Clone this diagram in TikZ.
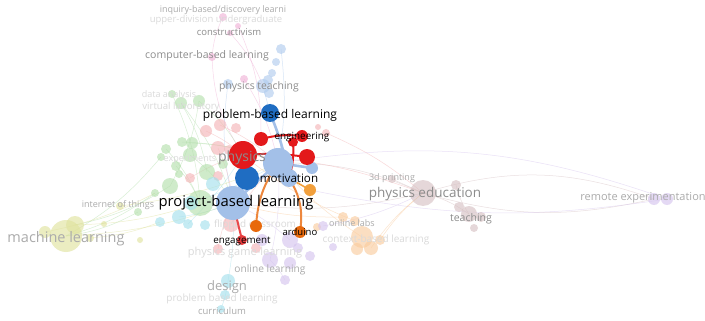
\documentclass[tikz,border=0pt]{standalone}
\usepackage{fontspec}
\setmainfont{Open Sans}
\usetikzlibrary{positioning,backgrounds}
\pgfdeclarelayer{paper}
\pgfdeclarelayer{links}
\pgfdeclarelayer{faded}
\pgfdeclarelayer{strong}
\pgfsetlayers{paper,links,faded,strong,main}
% cluster colours, full and dimmed
\definecolor{vbred}{HTML}{E3191B}
\definecolor{vbblue}{HTML}{1F6DC2}
\definecolor{vblight}{HTML}{A3C0E8}
\definecolor{vborange}{HTML}{E8690C}
\definecolor{vbamber}{HTML}{F2A03C}
\definecolor{fgreen}{HTML}{B3DFAB}
\definecolor{fred}{HTML}{F4B3B5}
\definecolor{fpink}{HTML}{F0B0D6}
\definecolor{fblue}{HTML}{AFCBEE}
\definecolor{fcyan}{HTML}{A3E0EC}
\definecolor{folive}{HTML}{DFE29C}
\definecolor{forange}{HTML}{FACB9C}
\definecolor{fpurple}{HTML}{D4C3EE}
\definecolor{fbrown}{HTML}{D6C0C2}
\definecolor{txtmid}{HTML}{8C8C8C}
\definecolor{txtlight}{HTML}{ABABAB}
\definecolor{txtfaint}{HTML}{DADADA}
\tikzset{
  bub/.style={circle, inner sep=0pt, minimum size=2*#1pt},
  dim/.style={fill=#1, fill opacity=0.62},
  lbl/.style={inner sep=0pt, font=\fontsize{#1}{#1}\selectfont},
  thin link/.style={line width=0.5pt, draw=#1, draw opacity=0.5},
  thick link/.style={line width=2.6pt, draw=#1, line cap=round},
}

\begin{document}
\begin{tikzpicture}[x=1pt, y=-1pt]
  \begin{pgfonlayer}{paper}
    \fill[white] (0,0) rectangle (705,321);
  \end{pgfonlayer}
  \useasboundingbox (0,0) rectangle (705,321);

  % highlighted neighbourhood
  \node[bub=17, fill=vblight] (proj) at (233,203) {};
  \node[bub=15, fill=vblight] (mot) at (278,163) {};
  \node[bub=9, fill=vblight] (lb2) at (289,178) {};
  \node[bub=6, fill=vblight] (lb3) at (312,168) {};
  \node[bub=12, fill=vbblue] (blu2) at (247,178) {};
  \node[bub=9, fill=vbblue] (pbl) at (270,113) {};
  \node[bub=14, fill=vbred] (phys) at (243,155) {};
  \node[bub=7, fill=vbred] (red2) at (261,139) {};
  \node[bub=6, fill=vbred] (eng) at (302,136) {};
  \node[bub=5, fill=vbred] (eng2) at (293,142) {};
  \node[bub=8, fill=vbred] (red3) at (307,157) {};
  \node[bub=6, fill=vbamber] (amb) at (310,190) {};
  \node[bub=6, fill=vborange] (ard) at (300,232) {};
  \node[bub=6, fill=vborange] (engor) at (256,226) {};
  \node[bub=5, fill=vbred!85] (engrd) at (242,240) {};

  % dimmed clusters
  \begin{pgfonlayer}{faded}
    \foreach \n/\x/\y/\r in {1/223/17/4, 2/238/26/3, 3/230/33/3, 4/212/57/4, 5/244/79/4}
      \node[bub=\r, dim=fpink] (pk\n) at (\x,\y) {};
    \foreach \n/\x/\y/\r in {1/281/49/5, 2/276/62/4, 3/272/73/4, 4/268/80/5, 5/228/84/5, 6/263/86/7, 7/269/93/5}
      \node[bub=\r, dim=fblue] (bl\n) at (\x,\y) {};
    \foreach \n/\x/\y/\r in {1/172/94/4, 2/181/103/6, 3/199/101/6, 4/166/149/5, 5/182/142/5,
        6/192/143/6, 7/190/155/7, 8/176/166/5, 9/161/157/4, 10/207/172/8, 11/170/186/8,
        12/155/193/4, 13/200/203/13, 14/138/212/4, 15/179/174/4, 16/223/164/5}
      \node[bub=\r, dim=fgreen] (g\n) at (\x,\y) {};
    \foreach \n/\x/\y/\r in {1/206/131/6, 2/220/125/6, 3/218/148/7, 4/229/150/5, 5/236/128/5,
        6/190/178/5, 7/218/176/5, 8/326/133/4, 9/318/127/3, 10/231/224/8, 11/256/248/5, 12/218/249/5}
      \node[bub=\r, dim=fred] (rd\n) at (\x,\y) {};
    \foreach \n/\x/\y/\r in {1/191/203/7, 2/179/217/7, 3/160/222/5, 4/205/225/5, 5/188/224/5,
        6/213/184/7, 7/228/281/7, 8/225/295/5, 9/221/309/4}
      \node[bub=\r, dim=fcyan] (cy\n) at (\x,\y) {};
    \foreach \n/\x/\y/\r in {1/66/236/16, 2/45/232/6, 3/75/225/9, 4/90/238/4, 5/120/206/4, 6/104/224/3, 7/140/240/3}
      \node[bub=\r, dim=folive] (ol\n) at (\x,\y) {};
    \foreach \n/\x/\y/\r in {1/343/217/5, 2/355/221/5, 3/362/237/11, 4/371/248/7, 5/357/249/6, 6/380/240/5, 7/317/227/4}
      \node[bub=\r, dim=forange] (or\n) at (\x,\y) {};
    \foreach \n/\x/\y/\r in {1/262/240/6, 2/290/240/8, 3/270/260/8, 4/290/263/6, 5/298/248/5,
        6/323/226/5, 7/333/247/4, 8/310/256/5, 9/285/280/5}
      \node[bub=\r, dim=fpurple] (pu\n) at (\x,\y) {};
    \foreach \n/\x/\y/\r in {1/423/193/13, 2/456/185/5, 3/392/179/4, 4/459/207/5, 5/469/214/8, 6/481/217/5, 7/474/228/4}
      \node[bub=\r, dim=fbrown] (br\n) at (\x,\y) {};
    \node[bub=6, dim=fpurple] (rm1) at (654,199) {};
    \node[bub=6, dim=fpurple] (rm2) at (667,199) {};

    % dimmed labels
    \node[lbl=9, txtlight] (t-inq) at (223,10) {inquiry-based/discovery learni};
    \node[lbl=9.5, txtfaint] (t-upp) at (216,20) {upper-division undergraduate};
    \node[lbl=9.5, txtmid] (t-con) at (229,32) {constructivism};
    \node[lbl=10.5, txtmid] (t-cbl) at (207,56) {computer-based learning};
    \node[lbl=10.4, txtmid] (t-pht) at (259,87) {physics teaching};
    \node[lbl=9, txtfaint] (t-dat) at (169,95) {data analysis};
    \node[lbl=9.6, txtfaint] (t-vir) at (181,107) {virtual laboratory};
    \node[lbl=9, txtfaint] (t-exp) at (190,159) {experiments};
    \node[lbl=9, txtlight] (t-iot) at (118,205) {internet of things};
    \node[lbl=14.5, txtlight] (t-ml) at (66,239) {machine learning};
    \node[lbl=9.9, txtfaint] (t-fli) at (255,225) {flipped classroom};
    \node[lbl=9, txtlight] (t-onl) at (352,223) {online labs};
    \node[lbl=9, txtlight] (t-3d) at (392,178) {3d printing};
    \node[lbl=13.5, txtmid] (t-phe) at (425,194) {physics education};
    \node[lbl=10.5, txtmid] (t-tea) at (471,219) {teaching};
    \node[lbl=11, txtlight] (t-rem) at (643,198) {remote experimentation};
    \node[lbl=10, txtfaint] (t-prb) at (376,240) {context-based learning};
    \node[lbl=11, txtfaint] (t-gam) at (245,253) {physics game-learning};
    \node[lbl=10.2, txtlight] (t-onlr) at (270,270) {online learning};
    \node[lbl=13, txtlight] (t-des) at (227,287) {design};
    \node[lbl=10, txtfaint] (t-prl) at (222,299) {problem based learning};
    \node[lbl=9.5, txtlight] (t-cur) at (222,311) {curriculum};
  \end{pgfonlayer}

  % faint links between the clusters
  \begin{pgfonlayer}{links}
    \draw[thin link=fbrown] (mot.center) to[bend left=12] (br1.center);
    \draw[thin link=fbrown] (proj.center) to[bend right=10] (br1.center);
    \draw[thin link=fred] (phys.center) to[bend left=8] (br1.center);
    \draw[thin link=fbrown] (br1.center) to[bend left=18] (rm1.center);
    \draw[thin link=fbrown] (br1.center) to[bend right=14] (rm1.center);
    \draw[thin link=fpurple] (mot.center) to[bend left=14] (rm2.center);
    \draw[thin link=fpurple] (amb.center) to[bend right=10] (rm2.center);
    \draw[thin link=fbrown] (br1.center) to[bend left=10] (br5.center);
    \draw[thin link=fbrown] (br2.center) to[bend right=10] (br5.center);
    \draw[thin link=fbrown] (br3.center) to (br1.center);
    \draw[thin link=fpink] (pk1.center) to[bend right=10] (pk4.center);
    \draw[thin link=fpink] (pk3.center) to[bend left=10] (bl6.center);
    \draw[thin link=fpink] (pk4.center) to[bend right=15] (phys.center);
    \draw[thin link=fpink] (pk5.center) to[bend left=10] (mot.center);
    \draw[thin link=fpink] (pk2.center) to[bend left=12] (red2.center);
    \draw[thin link=fblue] (bl1.center) to[bend left=8] (mot.center);
    \draw[thin link=fblue] (bl5.center) to[bend right=10] (proj.center);
    \draw[thin link=fblue] (bl6.center) to (pbl.center);
    \foreach \a/\b in {g1/g13, g2/proj, g3/phys, g4/g13, g5/mot, g7/proj, g9/ol1, g11/ol3,
        g12/ol1, g14/ol1, g3/g11, g2/g10, g6/mot, g8/g13}
      \draw[thin link=fgreen] (\a.center) to[bend left=10] (\b.center);
    \foreach \a/\b in {ol1/proj, ol3/g13, ol5/mot, ol2/g12, ol4/cy3}
      \draw[thin link=folive] (\a.center) to[bend right=8] (\b.center);
    \foreach \a/\b in {rd1/phys, rd2/mot, rd3/proj, rd6/phys, rd10/mot, rd12/proj, rd8/br1}
      \draw[thin link=fred] (\a.center) to[bend left=8] (\b.center);
    \foreach \a/\b in {cy1/mot, cy2/proj, cy7/proj, cy9/cy7, cy5/phys}
      \draw[thin link=fcyan] (\a.center) to[bend right=6] (\b.center);
    \foreach \a/\b in {or3/mot, or1/proj, or4/br1, or6/br1, or2/phys}
      \draw[thin link=forange] (\a.center) to[bend left=8] (\b.center);
    \foreach \a/\b in {pu3/mot, pu2/proj, pu6/br1, pu9/pu3}
      \draw[thin link=fpurple] (\a.center) to[bend right=8] (\b.center);
  \end{pgfonlayer}

  % strong links of the highlighted items
  \begin{pgfonlayer}{strong}
    \draw[thick link=vblight] (pbl.center) to[bend left=6] (lb2.center);
    \draw[thick link=vblight] (mot.center) to (lb3.center);
    \draw[thick link=vblight] (proj.center) to (mot.center);
    \draw[thick link=vbred, line width=2pt] (red2.center) to[bend left=10] (eng.center);
    \draw[thick link=vbred, line width=2pt] (eng2.center) to[bend left=10] (lb2.center);
    \draw[thick link=vbred, line width=2pt] (phys.center) to[bend left=6] (red3.center);
    \draw[thick link=vbred!80, line width=2pt] (proj.center) to (engrd.center);
    \draw[thick link=vborange!80, line width=2pt] (lb2.center) to[bend left=20] (ard.center);
    \draw[thick link=vborange!80, line width=2pt] (mot.center) to[bend right=15] (engor.center);
    \draw[thick link=vbamber, line width=1.6pt] (lb2.center) to (amb.center);
  \end{pgfonlayer}

  % labels of the highlighted items
  \node[lbl=14, txtmid] (t-phy) at (242,158) {physics};
  \node[lbl=12] (t-pbl) at (270,115) {problem-based learning};
  \node[lbl=9.9] (t-eng) at (302,137) {engineering};
  \node[lbl=11.6] (t-mot) at (289,178) {motivation};
  \node[lbl=14.8] (t-proj) at (236,203) {project-based learning};
  \node[lbl=9.5] (t-ard) at (300,232) {arduino};
  \node[lbl=9.8] (t-enga) at (242,241) {engagement};
\end{tikzpicture}
\end{document}
